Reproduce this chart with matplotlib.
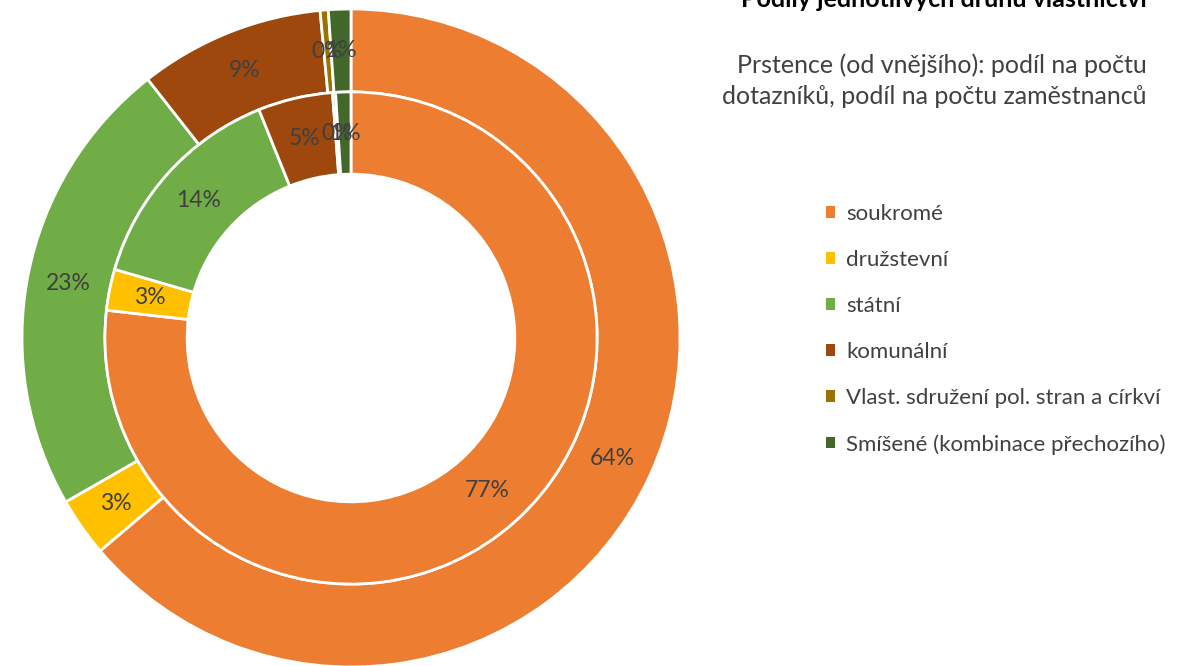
import matplotlib.pyplot as plt
from matplotlib.patches import Patch

plt.rcParams['font.family'] = ['Lato', 'DejaVu Sans']

# -------- Data --------
categories = ["soukromé", "družstevní", "státní", "komunální",
              "Vlast. sdružení pol. stran a církví",
              "Smíšené (kombinace přechozího)"]
# outer ring: share of questionnaires (%)
outer_share = [63.8, 2.9, 22.7, 9.1, 0.4, 1.1]
# inner ring: share of employees (%)
inner_share = [76.8, 2.7, 14.4, 4.9, 0.2, 1.0]
colors = ["#ED7D31", "#FFC000", "#70AD47", "#9E480E", "#997300", "#43682B"]

title = "Podíly jednotlivých druhů vlastnictví"
subtitle = "Prstence (od vnějšího): podíl na počtu\ndotazníků, podíl na počtu zaměstnanců"

W, H = 1179, 666
fig = plt.figure(figsize=(W / 100, H / 100), dpi=100)

# donut centre ~ (351, 338) px, outer radius ~329 px
cx, cy, r = 351, 338, 329
ax = fig.add_axes([(cx - r) / W, (H - cy - r) / H, 2 * r / W, 2 * r / H])

text_col = "#404040"
edge = dict(edgecolor="white", linewidth=2.0)

ax.pie(outer_share, radius=1.0, colors=colors, startangle=90, counterclock=False,
       wedgeprops=dict(width=0.252, **edge), autopct="%.0f%%", pctdistance=0.874,
       textprops=dict(color=text_col, fontsize=16.5))
ax.pie(inner_share, radius=0.748, colors=colors, startangle=90, counterclock=False,
       wedgeprops=dict(width=0.25, **edge), autopct="%.0f%%", pctdistance=0.833,
       textprops=dict(color=text_col, fontsize=16.5))
ax.set_xlim(-1, 1)
ax.set_ylim(-1, 1)
ax.set_aspect("auto")

# title (cut at top edge) and subtitle
fig.text(1147 / W, 1 - 7 / H, title, ha="right", va="baseline",
         fontsize=18, fontweight="bold", color="black")
fig.text(1147 / W, 1 - 104 / H, subtitle, ha="right", va="baseline",
         fontsize=18, color=text_col, multialignment="right", linespacing=1.4)

handles = [Patch(facecolor=c, edgecolor="none") for c in colors]
fig.legend(handles, categories, loc="upper left",
           bbox_to_anchor=(806 / W, 1 - 184 / H), frameon=False,
           fontsize=16, labelcolor=text_col, handlelength=0.4, handleheight=0.4,
           handletextpad=0.5, labelspacing=1.17)

fig.savefig("out.png", dpi=100)
